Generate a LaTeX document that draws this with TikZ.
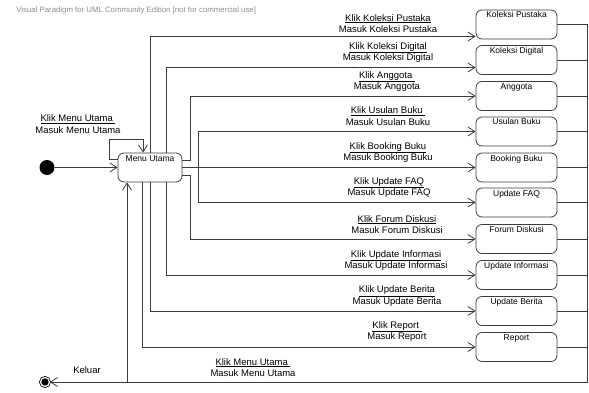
\documentclass[tikz,border=0pt]{standalone}
\usepackage{fontspec}
\setmainfont{Liberation Sans}
\usetikzlibrary{arrows.meta}
\definecolor{vpline}{HTML}{3C3C3C}
\tikzset{
    %Define standard arrow tip
    >={Straight Barb[length=7pt,width=9pt]},
}

\begin{document}
\begin{tikzpicture}[x=1pt, y=-1pt, line width=.8pt,
    state/.style = {draw=vpline, rounded corners=6pt,
                    font=\fontsize{8.5}{10}\selectfont,
                    minimum width=81pt, inner xsep=2pt, inner ysep=2pt,
                    text height=6pt, text depth=19pt},
    trans/.style = {font=\fontsize{9.5}{11.5}\selectfont, align=center,
                    inner sep=0pt},
    flow/.style = {->, draw=vpline},
    startdot/.style = {circle, fill=black, inner sep=0pt, minimum size=15pt},
    enddot/.style = {circle, draw, fill=black, double, double distance=1.2pt,
                     inner sep=0pt, minimum size=9pt},
  ]
  \useasboundingbox (0,0) rectangle (589,393);
  \node[anchor=base west, inner sep=0pt, text=black!45, font=\fontsize{7.8}{9}\selectfont]
    (watermark) at (16,12.5) {Visual Paradigm for UML Community Edition [not for commercial use]};

  \node[startdot] (start) at (47,167.5) {};
  \node[state, minimum width=64pt] (menu) at (150,167.5) {Menu Utama};
  \node[enddot] (finish) at (45,382) {};

  \node[state] (koleksi-pustaka) at (516.5,24.5) {Koleksi Pustaka};
  \node[state] (koleksi-digital) at (516.5,60) {Koleksi Digital};
  \node[state] (anggota) at (516.5,96) {Anggota};
  \node[state] (usulan-buku) at (516.5,131.5) {Usulan Buku};
  \node[state] (booking-buku) at (516.5,167.5) {Booking Buku};
  \node[state] (update-faq) at (516.5,202.5) {Update FAQ};
  \node[state] (forum-diskusi) at (516.5,239) {Forum Diskusi};
  \node[state] (update-informasi) at (516.5,275) {Update Informasi};
  \node[state] (update-berita) at (516.5,311) {Update Berita};
  \node[state] (report) at (516.5,347) {Report};

  \draw[flow] (start) -- (menu.west);
  \draw[flow] ([yshift=8.5pt]menu.west) -- ++(-8,0) -- ++(0,-20)
    -| ([xshift=-7pt]menu.north);
  \node[trans] (lbl-loop) at (78,124) {\underline{Klik Menu Utama\ }\\Masuk Menu Utama};

  \draw[flow] (menu.north) |- ([yshift=-12pt]koleksi-pustaka.west);
  \draw[flow] ([xshift=16pt]menu.north) |- ([yshift=-7.5pt]koleksi-digital.west);
  \draw[flow] ([yshift=7.5pt]menu.east) -- ++(8,0) |- (anggota.west);
  \draw[flow] (menu.east) -- ++(16,0) |- (usulan-buku.west);
  \draw[flow] (menu.east) -- (booking-buku.west);
  \draw[flow] (menu.east) -- ++(16,0) |- (update-faq.west);
  \draw[flow] ([yshift=-7.5pt]menu.east) -- ++(8,0) |- (forum-diskusi.west);
  \draw[flow] ([xshift=16pt]menu.south) |- (update-informasi.west);
  \draw[flow] (menu.south) |- (update-berita.west);
  \draw[flow] ([xshift=-8pt]menu.south) |- (report.west);

  \node[trans] (lbl-pustaka) at (388,23.5) {\underline{Klik Koleksi Pustaka}\\Masuk Koleksi Pustaka};
  \node[trans] (lbl-digital) at (388,52.5) {\underline{Klik Koleksi Digital}\\Masuk Koleksi Digital};
  \node[trans] (lbl-anggota) at (387,81.5) {\underline{Klik Anggota\ }\\Masuk Anggota};
  \node[trans] (lbl-usulan) at (388,116) {\underline{Klik Usulan Buku\ }\\Masuk Usulan Buku};
  \node[trans] (lbl-booking) at (388,152.5) {\underline{Klik Booking Buku}\\Masuk Booking Buku};
  \node[trans] (lbl-faq) at (389,187.5) {\underline{Klik Update FAQ}\\Masuk Update FAQ};
  \node[trans] (lbl-forum) at (397,224.5) {\underline{Klik Forum Diskusi}\\Masuk Forum Diskusi};
  \node[trans] (lbl-informasi) at (396,260.5) {\underline{Klik Update Informasi}\\Masuk Update Informasi};
  \node[trans] (lbl-berita) at (397,296) {\underline{Klik Update Berita}\\Masuk Update Berita};
  \node[trans] (lbl-report) at (397,331.5) {\underline{Klik Report\ }\\Masuk Report};

  % back to the menu, or out
  \coordinate (bus-top) at (587,24.5);
  \coordinate (bus-end) at (587,382);
  \coordinate (bus-corner) at (127,382);
  \draw[vpline] (koleksi-pustaka.east) -- (bus-top) -- (bus-end) -- (bus-corner);
  \draw[vpline] (koleksi-digital.east) -- (koleksi-digital.east -| bus-top)
    (anggota.east) -- (anggota.east -| bus-top)
    (usulan-buku.east) -- (usulan-buku.east -| bus-top)
    (booking-buku.east) -- (booking-buku.east -| bus-top)
    (update-faq.east) -- (update-faq.east -| bus-top)
    (forum-diskusi.east) -- (forum-diskusi.east -| bus-top)
    (update-informasi.east) -- (update-informasi.east -| bus-top)
    (update-berita.east) -- (update-berita.east -| bus-top)
    (report.east) -- (report.east -| bus-top);
  \draw[flow] (bus-corner) -- ([xshift=-23pt]menu.south);
  \node[trans] (lbl-back) at (253,367.5) {\underline{Klik Menu Utama\ }\\Masuk Menu Utama};
  \draw[flow] (bus-corner) -- (finish);
  \node[trans] (lbl-keluar) at (87,370) {Keluar};
\end{tikzpicture}
\end{document}
